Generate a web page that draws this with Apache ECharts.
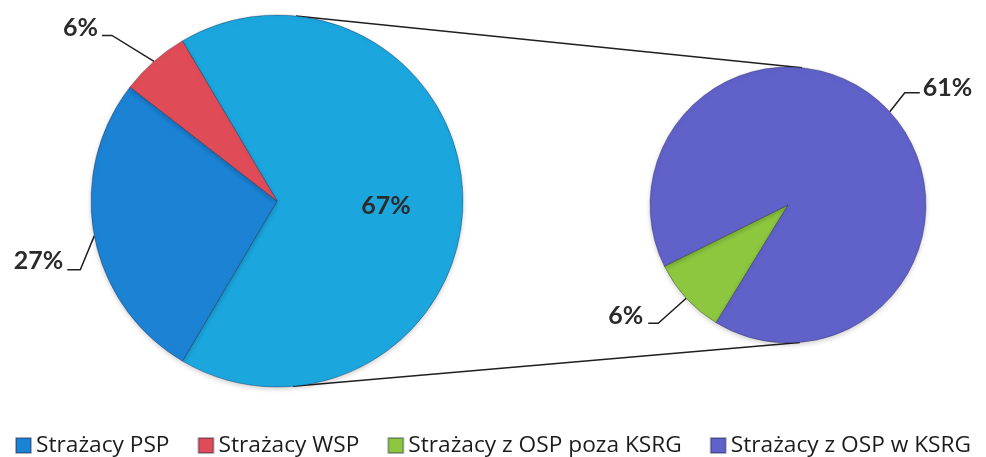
<!DOCTYPE html>
<html><head><meta charset="utf-8">
<script src="https://cdn.jsdelivr.net/npm/echarts@6/dist/echarts.min.js"></script>
<style>html,body{margin:0;padding:0;background:#fff}#c{width:986px;height:457px}</style>
</head><body><div id="c"></div>
<script>
// ---- data ----
const categories = ['Strażacy PSP', 'Strażacy WSP', 'Strażacy z OSP poza KSRG', 'Strażacy z OSP w KSRG'];
const shares = [27, 6, 6, 61];          // % of all firefighters
const mainPieIdx = [0, 1];              // shown directly in the left pie
const subPieIdx = [2, 3];               // split out into the right pie
const otherName = 'Strażacy z OSP';     // aggregated slice of the left pie

// ---- style / layout ----
const colors = ['#1b82d4', '#df4b57', '#8dc63f', '#6061c9'];
const otherColor = '#1ba6de';
const L = { cx: 277, cy: 201, r: 186 };
const R = { cx: 788, cy: 205, r: 138 };
const FONT = 'Lato, "Open Sans", sans-serif';
const LEGEND_FONT = '"Open Sans", Lato, sans-serif';
// label leader offsets relative to the slice edge point: knee, end, label anchor
const labelGeom = {
  'Strażacy PSP':            { knee: [-14, 34], end: [-27, 34], lab: [-31, 25], align: 'right' },
  'Strażacy WSP':            { knee: [-42, -26], end: [-52, -26], lab: [-56, -34], align: 'right' },
  'Strażacy z OSP poza KSRG':{ knee: [-28, 25], end: [-38, 25], lab: [-43, 18], align: 'right' },
  'Strażacy z OSP w KSRG':   { knee: [15, -19], end: [30, -19], lab: [33, -24], align: 'left' }
};

const otherValue = subPieIdx.reduce((s, i) => s + shares[i], 0);
const total = shares.reduce((s, v) => s + v, 0);

const leftData = [{ name: otherName, value: otherValue,
  itemStyle: { color: otherColor },
  label: { position: 'inside' } }]
  .concat(mainPieIdx.map(i => ({ name: categories[i], value: shares[i], itemStyle: { color: colors[i] } })));
const rightData = subPieIdx.map(i => ({ name: categories[i], value: shares[i], itemStyle: { color: colors[i] } }));
const geomByIndex = [leftData.map(d => labelGeom[d.name]), rightData.map(d => labelGeom[d.name])];

function labelLayout(params) {
  const pts = params.labelLinePoints;
  const g = geomByIndex[params.seriesIndex][params.dataIndex];
  if (!g || !pts) return { dx: 13, dy: 5 };
  const p = pts[0];
  return {
    x: p[0] + g.lab[0], y: p[1] + g.lab[1], align: g.align, verticalAlign: 'middle', width: 80,
    labelLinePoints: [[p[0], p[1]], [p[0] + g.knee[0], p[1] + g.knee[1]], [p[0] + g.end[0], p[1] + g.end[1]]]
  };
}

// external tangent lines between the two pies
function tangents() {
  const dx = R.cx - L.cx, dy = R.cy - L.cy, d = Math.hypot(dx, dy);
  const ux = dx / d, uy = dy / d, k = (L.r - R.r) / d, s = Math.sqrt(1 - k * k);
  return [1, -1].map(sign => {
    const nx = k * ux - sign * s * uy, ny = k * uy + sign * s * ux;
    return { x1: L.cx + L.r * nx, y1: L.cy + L.r * ny, x2: R.cx + R.r * nx, y2: R.cy + R.r * ny };
  });
}

const labelBase = {
  show: true, formatter: '{c}%', fontFamily: FONT, fontWeight: 'bold', fontSize: 25, color: '#2b2b2b',
  overflow: 'none'
};
const lineBase = { show: true, lineStyle: { color: '#1f1f1f', width: 1.5 } };
const itemBase = { borderColor: 'rgba(30,30,60,0.35)', borderWidth: 1,
  shadowBlur: 5, shadowOffsetY: 2, shadowColor: 'rgba(0,0,0,0.18)' };

const chart = echarts.init(document.getElementById('c'));
chart.setOption({
  animation: false,
  backgroundColor: '#fff',
  legend: {
    data: categories, left: 10, top: 429, itemWidth: 15, itemHeight: 15, itemGap: 28, icon: 'rect',
    textStyle: { fontFamily: LEGEND_FONT, fontSize: 22.7, color: '#1c1c1c' }
  },
  graphic: tangents().map(t => ({
    type: 'line', z: 1, shape: t, style: { stroke: '#1f1f1f', lineWidth: 1.5 }
  })),
  series: [
    {
      type: 'pie', center: [L.cx, L.cy], radius: L.r, startAngle: otherValue / total * 180, clockwise: true,
      data: leftData, label: labelBase, labelLine: lineBase, labelLayout: labelLayout,
      itemStyle: itemBase, emphasis: { disabled: true }, z: 2
    },
    {
      type: 'pie', center: [R.cx, R.cy], radius: R.r, startAngle: 238.6, clockwise: true,
      data: rightData, label: labelBase, labelLine: lineBase, labelLayout: labelLayout,
      itemStyle: itemBase, emphasis: { disabled: true }, z: 2
    }
  ]
});
</script></body></html>
